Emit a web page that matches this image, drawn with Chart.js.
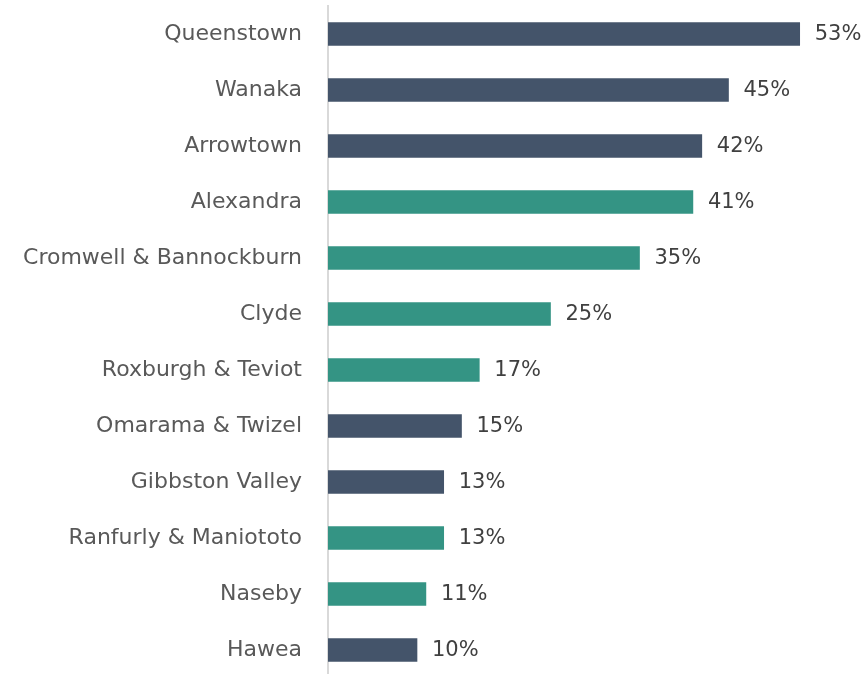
<!DOCTYPE html>
<html>
<head>
<meta charset="utf-8">
<script src="https://cdn.jsdelivr.net/npm/chart.js@4"></script>
<style>
  html, body { margin: 0; padding: 0; background: #fff; }
  #wrap { width: 868px; height: 674px; overflow: hidden; position: relative; }
  #wrap canvas { position: absolute; top: 0; left: 0; }
</style>
</head>
<body>
<div id="wrap"><canvas id="barChart" width="868" height="680"></canvas></div>
<script>
// Chart data
const towns = [
  "Queenstown", "Wanaka", "Arrowtown", "Alexandra", "Cromwell & Bannockburn",
  "Clyde", "Roxburgh & Teviot", "Omarama & Twizel", "Gibbston Valley",
  "Ranfurly & Maniototo", "Naseby", "Hawea",
];
const shares = [53, 45, 42, 41, 35, 25, 17, 15, 13, 13, 11, 10];
// which group each town belongs to (drives the bar colour)
const groups = ["A", "A", "A", "B", "B", "B", "B", "A", "A", "B", "B", "A"];

const groupColors = { A: "#44546A", B: "#349484" };
const fontFamily = "'DejaVu Sans', sans-serif";

// Draw value labels at the end of each bar
const valueLabels = {
  id: "valueLabels",
  afterDatasetsDraw(chart) {
    const ctx = chart.ctx;
    const meta = chart.getDatasetMeta(0);
    ctx.save();
    ctx.font = "21px " + fontFamily;
    ctx.fillStyle = "#404040";
    ctx.textAlign = "left";
    ctx.textBaseline = "middle";
    meta.data.forEach((bar, i) => {
      ctx.fillText(shares[i] + "%", bar.x + 15, bar.y + 1);
    });
    ctx.restore();
  },
};

const ctxBar = document.getElementById("barChart").getContext("2d");
new Chart(ctxBar, {
  type: "bar",
  data: {
    labels: towns,
    datasets: [
      {
        data: shares,
        backgroundColor: groups.map((g) => groupColors[g]),
        barThickness: 23,
      },
    ],
  },
  options: {
    indexAxis: "y",
    responsive: false,
    animation: false,
    layout: { padding: { top: 6, right: 6, bottom: 2, left: 0 } },
    plugins: {
      legend: { display: false },
      tooltip: { enabled: false },
    },
    scales: {
      x: {
        min: 0,
        max: 60,
        display: false,
      },
      y: {
        grid: { display: false, drawTicks: false },
        border: { display: true, color: "#D9D9D9", width: 2 },
        ticks: {
          color: "#595959",
          padding: 26,
          font: { size: 22, family: fontFamily },
        },
        afterFit(scale) {
          scale.width = 328;
          scale.paddingTop = 0;
          scale.paddingBottom = 0;
        },
      },
    },
  },
  plugins: [valueLabels],
});
</script>
</body>
</html>
